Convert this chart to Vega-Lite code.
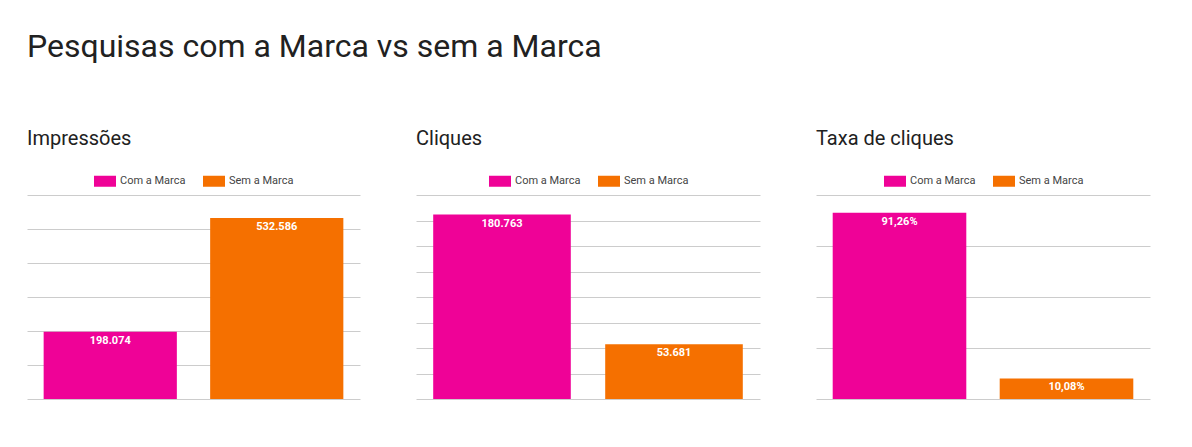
{
  "$schema": "https://vega.github.io/schema/vega-lite/v6.json",
  "background": "white",
  "padding": {"left": 27, "top": 31, "right": 10, "bottom": 10},
  "title": {"text": "Pesquisas com a Marca vs sem a Marca", "anchor": "start", "fontSize": 32, "font": "Roboto", "fontWeight": "normal", "color": "#212121", "offset": 65, "frame": "group"},
  "datasets": {
    "imp": [{"serie": "Com a Marca", "valor": 198074, "rotulo": "198.074"}, {"serie": "Sem a Marca", "valor": 532586, "rotulo": "532.586"}],
    "cli": [{"serie": "Com a Marca", "valor": 180763, "rotulo": "180.763"}, {"serie": "Sem a Marca", "valor": 53681, "rotulo": "53.681"}],
    "ctr": [{"serie": "Com a Marca", "valor": 0.9126, "rotulo": "91,26%"}, {"serie": "Sem a Marca", "valor": 0.1008, "rotulo": "10,08%"}]
  },
  "spacing": 56,
  "resolve": {"legend": {"color": "independent"}, "scale": {"color": "independent"}},
  "config": {
    "view": {"stroke": null},
    "font": "Roboto",
    "title": {"anchor": "start", "fontSize": 20, "fontWeight": "normal", "color": "#212121", "font": "Roboto"},
    "axisY": {"labels": false, "ticks": false, "domain": false, "title": null, "grid": true, "gridColor": "#cccccc", "gridWidth": 1, "minExtent": 0, "maxExtent": 0},
    "axisX": {"disable": true},
    "legend": {"orient": "none", "direction": "horizontal", "title": null, "labelFont": "Roboto", "labelFontSize": 11, "labelColor": "#444444", "symbolType": "M-1,-0.5H1V0.5H-1Z", "symbolSize": 484, "symbolStrokeWidth": 0, "labelOffset": 4, "columnPadding": 17, "padding": 0, "legendY": -25}
  },
  "hconcat": [
    {
      "title": {"text": "Impressões", "offset": 21},
      "width": 333, "height": 204,
      "data": {"name": "imp"},
      "encoding": {
        "x": {"field": "serie", "type": "nominal", "scale": {"paddingInner": 0.2, "paddingOuter": 0.1}},
        "y": {"field": "valor", "type": "quantitative", "scale": {"domain": [0, 600000], "nice": false}, "axis": {"values": [0, 100000, 200000, 300000, 400000, 500000, 600000]}}
      },
      "layer": [
        {"mark": {"type": "bar"}, "encoding": {"color": {"field": "serie", "type": "nominal", "scale": {"domain": ["Com a Marca", "Sem a Marca"], "range": ["#ef0297", "#f57000"]}, "legend": {"legendX": 67}}}},
        {"mark": {"type": "text", "baseline": "top", "dy": 3, "color": "white", "fontWeight": "bold", "fontSize": 11, "font": "Roboto"}, "encoding": {"text": {"field": "rotulo"}}}
      ]
    },
    {
      "title": {"text": "Cliques", "offset": 21},
      "width": 344, "height": 204,
      "data": {"name": "cli"},
      "encoding": {
        "x": {"field": "serie", "type": "nominal", "scale": {"paddingInner": 0.2, "paddingOuter": 0.1}},
        "y": {"field": "valor", "type": "quantitative", "scale": {"domain": [0, 200000], "nice": false}, "axis": {"values": [0, 25000, 50000, 75000, 100000, 125000, 150000, 175000, 200000]}}
      },
      "layer": [
        {"mark": {"type": "bar"}, "encoding": {"color": {"field": "serie", "type": "nominal", "scale": {"domain": ["Com a Marca", "Sem a Marca"], "range": ["#ef0297", "#f57000"]}, "legend": {"legendX": 73}}}},
        {"mark": {"type": "text", "baseline": "top", "dy": 3, "color": "white", "fontWeight": "bold", "fontSize": 11, "font": "Roboto"}, "encoding": {"text": {"field": "rotulo"}}}
      ]
    },
    {
      "title": {"text": "Taxa de cliques", "offset": 21},
      "width": 334, "height": 204,
      "data": {"name": "ctr"},
      "encoding": {
        "x": {"field": "serie", "type": "nominal", "scale": {"paddingInner": 0.2, "paddingOuter": 0.1}},
        "y": {"field": "valor", "type": "quantitative", "scale": {"domain": [0, 1], "nice": false}, "axis": {"values": [0, 0.25, 0.5, 0.75, 1]}}
      },
      "layer": [
        {"mark": {"type": "bar"}, "encoding": {"color": {"field": "serie", "type": "nominal", "scale": {"domain": ["Com a Marca", "Sem a Marca"], "range": ["#ef0297", "#f57000"]}, "legend": {"legendX": 68}}}},
        {"mark": {"type": "text", "baseline": "top", "dy": 3, "color": "white", "fontWeight": "bold", "fontSize": 11, "font": "Roboto"}, "encoding": {"text": {"field": "rotulo"}}}
      ]
    }
  ]
}
